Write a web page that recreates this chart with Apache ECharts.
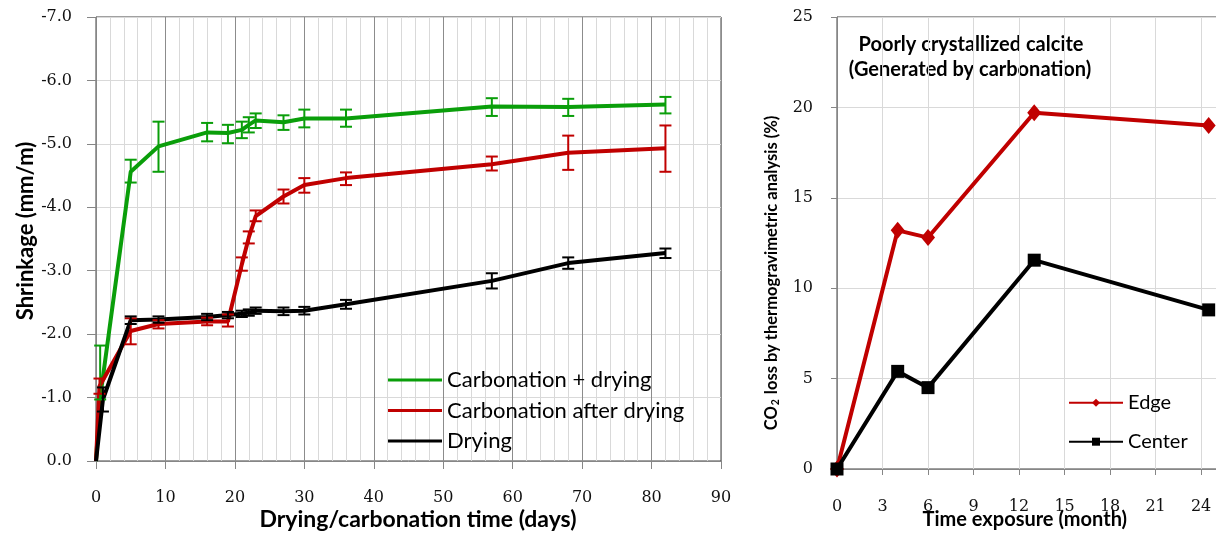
<!DOCTYPE html>
<html>
<head>
<meta charset="utf-8">
<script src="https://cdn.jsdelivr.net/npm/echarts@6/dist/echarts.min.js"></script>
<style>html,body{margin:0;padding:0;background:#fff}#c{width:1216px;height:533px}</style>
</head>
<body>
<div id="c"></div>
<script>
// ---------- Left chart data (shrinkage, mm/m) ----------
const greenDays = [0, 0.6, 5, 9, 16, 19, 21, 22, 23, 27, 30, 36, 57, 68, 82];
const greenVals = [0, -1.0, -4.56, -4.96, -5.18, -5.17, -5.22, -5.30, -5.37, -5.34, -5.40, -5.40, -5.59, -5.58, -5.62];
const greenTop  = [null, -1.82, -4.75, -5.35, -5.33, -5.30, -5.35, -5.42, -5.48, -5.45, -5.54, -5.54, -5.72, -5.71, -5.74];
const greenBot  = [null, -0.97, -4.39, -4.56, -5.04, -5.01, -5.09, -5.18, -5.25, -5.22, -5.26, -5.27, -5.44, -5.44, -5.48];

const redDays = [0, 0.5, 5, 9, 16, 19, 21, 22, 23, 27, 30, 36, 57, 68, 82];
const redVals = [0, -1.18, -2.05, -2.16, -2.20, -2.20, -3.10, -3.52, -3.86, -4.17, -4.35, -4.46, -4.68, -4.86, -4.93];
const redTop  = [null, -1.30, -2.25, -2.22, -2.26, -2.31, -3.21, -3.62, -3.95, -4.28, -4.46, -4.55, -4.80, -5.13, -5.29];
const redBot  = [null, -1.06, -1.84, -2.09, -2.14, -2.12, -3.00, -3.43, -3.78, -4.06, -4.23, -4.35, -4.58, -4.59, -4.56];

const blackDays = [0, 1, 5, 9, 16, 19, 21, 22, 23, 27, 30, 36, 57, 68, 82];
const blackVals = [0, -0.97, -2.22, -2.23, -2.27, -2.30, -2.32, -2.34, -2.37, -2.36, -2.37, -2.47, -2.84, -3.12, -3.28];
const blackTop  = [null, -1.16, -2.28, -2.28, -2.32, -2.35, -2.37, -2.39, -2.42, -2.42, -2.43, -2.54, -2.96, -3.21, -3.35];
const blackBot  = [null, -0.78, -2.16, -2.18, -2.22, -2.25, -2.27, -2.29, -2.32, -2.30, -2.31, -2.40, -2.72, -3.03, -3.20];

const leftNames = ['Carbonation + drying', 'Carbonation after drying', 'Drying'];

// ---------- Right chart data (CO2 loss, %) ----------
const months = [0, 4, 6, 13, 24.5];
const edgeVals = [0, 13.2, 12.8, 19.7, 19.0];
const centerVals = [0, 5.4, 4.5, 11.55, 8.8];
const rightNames = ['Edge', 'Center'];

const GREEN = '#0a9e0a', RED = '#c00000', BLACK = '#000000';
const TICKFONT = {fontFamily: 'DejaVu Serif', fontSize: 16, color: '#111'};
const SANS = 'Lato';

function pairs(xs, ys) { return xs.map((x, i) => [x, ys[i]]); }
function bars(xs, tops, bots) {
  const out = [];
  xs.forEach((x, i) => { if (tops[i] !== null) out.push([x, tops[i], bots[i]]); });
  return out;
}
function errRender(color) {
  return function (params, api) {
    const p1 = api.coord([api.value(0), api.value(1)]);
    const p2 = api.coord([api.value(0), api.value(2)]);
    const hw = 6;
    const st = {stroke: color, lineWidth: 2};
    return {type: 'group', children: [
      {type: 'line', shape: {x1: p1[0], y1: p1[1], x2: p2[0], y2: p2[1]}, style: st},
      {type: 'line', shape: {x1: p1[0] - hw, y1: p1[1], x2: p1[0] + hw, y2: p1[1]}, style: st},
      {type: 'line', shape: {x1: p2[0] - hw, y1: p2[1], x2: p2[0] + hw, y2: p2[1]}, style: st}
    ]};
  };
}
function errSeries(xs, tops, bots, color) {
  return {type: 'custom', xAxisIndex: 0, yAxisIndex: 0, renderItem: errRender(color),
    data: bars(xs, tops, bots), encode: {x: 0, y: [1, 2]}, silent: true, z: 3};
}
function lineSeries(name, xs, ys, color) {
  return {type: 'line', name: name, xAxisIndex: 0, yAxisIndex: 0, data: pairs(xs, ys),
    symbol: 'none', lineStyle: {color: color, width: 4}, itemStyle: {color: color}, z: 2};
}

const chart = echarts.init(document.getElementById('c'), null, {renderer: 'canvas'});
chart.setOption({
  animation: false,
  backgroundColor: '#fff',
  grid: [
    {left: 96, top: 17, width: 625, height: 444, show: true, borderColor: '#404040', borderWidth: 1,
     containLabel: false, outerBoundsMode: 'none'},
    {left: 837, top: 17, width: 409.6, height: 452, show: true, borderColor: '#404040', borderWidth: 1,
     containLabel: false, outerBoundsMode: 'none'}
  ],
  xAxis: [
    {gridIndex: 0, type: 'value', min: 0, max: 90, interval: 10,
     name: 'Drying/carbonation time (days)', nameLocation: 'middle', nameGap: 47, nameMoveOverlap: false,
     nameTextStyle: {fontFamily: SANS, fontWeight: 'bold', fontSize: 23, color: '#000', padding: [0, 0, 0, 19]},
     axisLine: {lineStyle: {color: '#868686', width: 1}},
     axisTick: {show: true, inside: false, length: 8, lineStyle: {color: '#868686'}},
     axisLabel: Object.assign({margin: 29}, TICKFONT),
     splitLine: {show: true, lineStyle: {color: '#8c8c8c', width: 1}},
     minorTick: {show: false, splitNumber: 5},
     minorSplitLine: {show: true, lineStyle: {color: '#d9d9d9', width: 1}}},
    {gridIndex: 1, type: 'value', min: 0, max: 27, interval: 3,
     name: 'Time exposure (month)', nameLocation: 'middle', nameGap: 41, nameMoveOverlap: false,
     nameTextStyle: {fontFamily: SANS, fontWeight: 'bold', fontSize: 20, color: '#000', padding: [0, 34, 0, 0]},
     axisLine: {lineStyle: {color: '#868686', width: 1}},
     axisTick: {show: true, inside: false, length: 6, lineStyle: {color: '#868686'}},
     axisLabel: Object.assign({margin: 30}, TICKFONT),
     splitLine: {show: true, lineStyle: {color: '#d9d9d9', width: 1}}}
  ],
  yAxis: [
    {gridIndex: 0, type: 'value', min: -7, max: 0, interval: 1, inverse: true,
     name: 'Shrinkage (mm/m)', nameLocation: 'middle', nameGap: 59, nameMoveOverlap: false,
     nameTextStyle: {fontFamily: SANS, fontWeight: 'bold', fontSize: 22, color: '#000', padding: [0, 0, 0, 16]},
     axisLine: {show: true, lineStyle: {color: '#868686', width: 1}},
     axisTick: {show: true, inside: false, length: 9, lineStyle: {color: '#868686'}},
     axisLabel: Object.assign({margin: 24, formatter: v => v.toFixed(1)}, TICKFONT),
     splitLine: {show: true, lineStyle: {color: '#d9d9d9', width: 1}}},
    {gridIndex: 1, type: 'value', min: 0, max: 25, interval: 5,
     name: '{a|CO}{s|2}{a| loss by thermogravimetric analysis (%)}', nameLocation: 'middle', nameGap: 56, nameMoveOverlap: false,
     nameTextStyle: {fontFamily: SANS, fontWeight: 'bold', fontSize: 16.5, color: '#000', padding: [0, 60, 0, 0],
       rich: {a: {fontFamily: SANS, fontWeight: 'bold', fontSize: 16.5, color: '#000'},
              s: {fontFamily: SANS, fontWeight: 'bold', fontSize: 10.5, color: '#000', verticalAlign: 'bottom', padding: [8, 1, 0, 1]}}},
     axisLine: {show: true, lineStyle: {color: '#868686', width: 1}},
     axisTick: {show: true, inside: false, length: 6, lineStyle: {color: '#868686'}},
     axisLabel: Object.assign({margin: 24}, TICKFONT),
     splitLine: {show: true, lineStyle: {color: '#d9d9d9', width: 1}}}
  ],
  legend: [
    {data: leftNames, orient: 'vertical', left: 383, top: 364, itemWidth: 54, itemHeight: 3, itemGap: 8.5,
     icon: 'rect',
     textStyle: {fontFamily: SANS, fontSize: 22, color: '#000', lineHeight: 22}},
    {data: rightNames, orient: 'vertical', left: 1063, top: 387.7, itemWidth: 54, itemHeight: 10, itemGap: 19,
     textStyle: {fontFamily: SANS, fontSize: 20, color: '#000', lineHeight: 20},
     lineStyle: {width: 2}}
  ],
  graphic: [
    {type: 'text', x: 971, y: 45, style: {text: 'Poorly crystallized calcite', fontFamily: SANS, fontWeight: 'bold', fontSize: 20, fill: '#000', textAlign: 'center', textVerticalAlign: 'middle'}},
    {type: 'text', x: 970, y: 70, style: {text: '(Generated by carbonation)', fontFamily: SANS, fontWeight: 'bold', fontSize: 20, fill: '#000', textAlign: 'center', textVerticalAlign: 'middle'}}
  ],
  series: [
    lineSeries(leftNames[0], greenDays, greenVals, GREEN),
    errSeries(greenDays, greenTop, greenBot, GREEN),
    lineSeries(leftNames[1], redDays, redVals, RED),
    errSeries(redDays, redTop, redBot, RED),
    lineSeries(leftNames[2], blackDays, blackVals, BLACK),
    errSeries(blackDays, blackTop, blackBot, BLACK),
    {type: 'line', name: rightNames[0], xAxisIndex: 1, yAxisIndex: 1, data: pairs(months, edgeVals),
     symbol: 'diamond', symbolSize: [14, 17], lineStyle: {color: RED, width: 4}, itemStyle: {color: RED}, z: 2},
    {type: 'line', name: rightNames[1], xAxisIndex: 1, yAxisIndex: 1, data: pairs(months, centerVals),
     symbol: 'rect', symbolSize: 13, lineStyle: {color: BLACK, width: 4}, itemStyle: {color: BLACK}, z: 3}
  ]
});
</script>
</body>
</html>
